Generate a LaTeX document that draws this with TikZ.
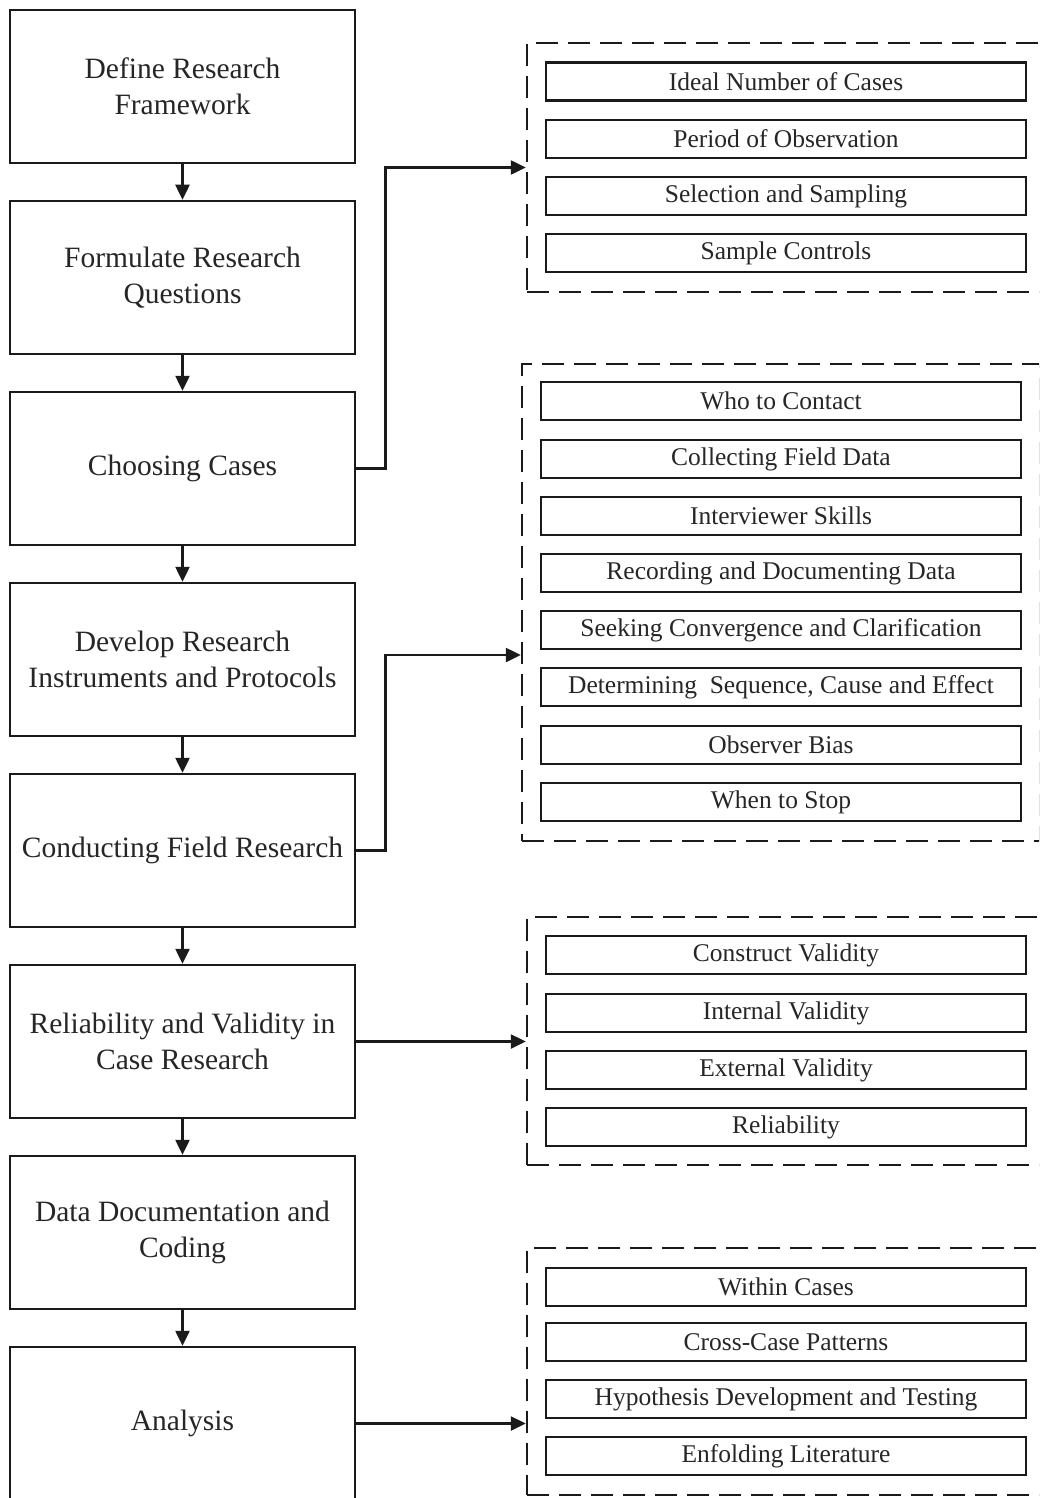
\documentclass[tikz,border=0pt]{standalone}
\usepackage{fontspec}
\setmainfont{Liberation Serif}
\usetikzlibrary{arrows.meta,calc}
\definecolor{ink}{HTML}{1A1A1A}
\definecolor{txt}{HTML}{262626}
\begin{document}
\begin{tikzpicture}[x=1pt,y=-1pt,
  stage/.style={draw=ink,line width=2.5pt,minimum width=345pt,minimum height=153pt,
    inner sep=0pt,align=center,text=txt,font=\fontsize{29.5}{36}\selectfont},
  item/.style={draw=ink,line width=2.5pt,minimum width=480pt,minimum height=38pt,
    inner sep=0pt,text=txt,font=\fontsize{25.5}{30}\selectfont},
  group/.style={draw=ink,line width=2.5pt,dash pattern=on 22pt off 10pt,inner sep=0pt},
  arr/.style={draw=ink,line width=2.5pt,-{Triangle[length=15pt,width=14pt]}}]
\useasboundingbox (0,0) rectangle (1039,1498);
\fill[white] (0,0) rectangle (1039,1498);
\clip (0,0) rectangle (1039,1498);

% main sequence of stages
\node[stage] (s1) at (182.5,86.5)  {Define Research\\Framework};
\node[stage] (s2) at (182.5,277.5) {Formulate Research\\Questions};
\node[stage] (s3) at (182.5,468.5) {Choosing Cases};
\node[stage] (s4) at (182.5,659.5) {Develop Research\\Instruments and Protocols};
\node[stage] (s5) at (182.5,850.5) {Conducting Field Research};
\node[stage] (s6) at (182.5,1041.5) {Reliability and Validity in\\Case Research};
\node[stage] (s7) at (182.5,1232.5) {Data Documentation and\\Coding};
\node[stage] (s8) at (182.5,1423.5) {Analysis};

\foreach \a/\b in {s1/s2,s2/s3,s3/s4,s4/s5,s5/s6,s6/s7,s7/s8}
  \draw[arr] (\a.south) -- (\b.north);

% dashed groups of sub-topics
\node[group,minimum width=515pt,minimum height=249pt] (g1) at (784.5,167.5) {};
\node[group,minimum width=518.5pt,minimum height=477pt] (g2) at (781.25,602.5) {};
\node[group,minimum width=515pt,minimum height=248pt] (g3) at (784.5,1041) {};
\node[group,minimum width=515pt,minimum height=247pt] (g4) at (784.5,1371.5) {};

% choosing cases
\node[item] (a1) at (786,81.5) {Ideal Number of Cases};
\node[item] (a2) at (786,139)  {Period of Observation};
\node[item] (a3) at (786,196)  {Selection and Sampling};
\node[item] (a4) at (786,253)  {Sample Controls};

% field research
\node[item] (b1) at (781,401) {Who to Contact};
\node[item] (b2) at (781,459) {Collecting Field Data};
\node[item] (b3) at (781,516) {Interviewer Skills};
\node[item] (b4) at (781,573) {Recording and Documenting Data};
\node[item] (b5) at (781,630) {Seeking Convergence and Clarification};
\node[item] (b6) at (781,687) {Determining\ \ Sequence, Cause and Effect};
\node[item] (b7) at (781,745) {Observer Bias};
\node[item] (b8) at (781,802) {When to Stop};

% reliability and validity
\node[item] (c1) at (786,955)  {Construct Validity};
\node[item] (c2) at (786,1013) {Internal Validity};
\node[item] (c3) at (786,1070) {External Validity};
\node[item] (c4) at (786,1127) {Reliability};

% analysis
\node[item] (d1) at (786,1287) {Within Cases};
\node[item] (d2) at (786,1342) {Cross-Case Patterns};
\node[item] (d3) at (786,1399) {Hypothesis Development and Testing};
\node[item] (d4) at (786,1456) {Enfolding Literature};

% links from stages to their groups
\coordinate (g2in) at ($(g2.west)+(0,52.5)$);
\draw[arr] (s3.east) -- ++(29,0) |- (g1.west);
\draw[arr] (s5.east) -- ++(29,0) |- (g2in);
\draw[arr] (s6.east) -- (s6.east -| g3.west);
\draw[arr] (s8.east) -- (s8.east -| g4.west);
\end{tikzpicture}
\end{document}
